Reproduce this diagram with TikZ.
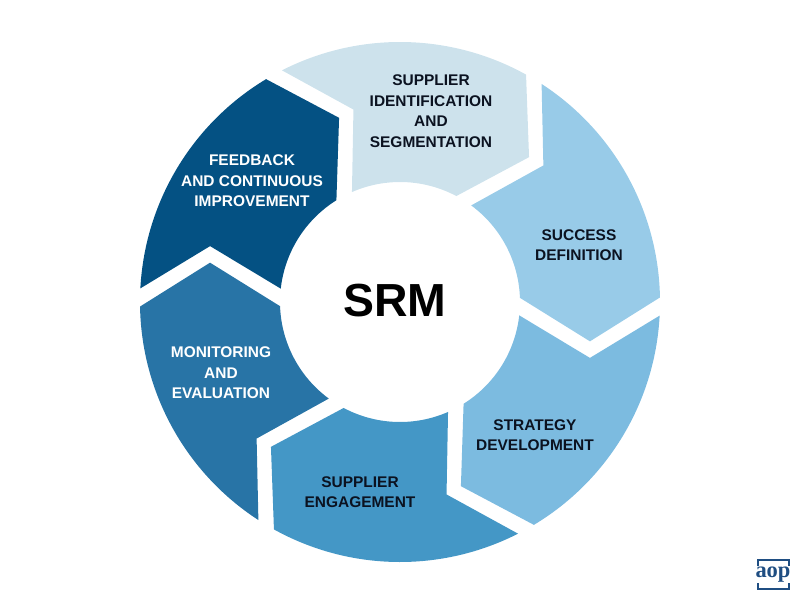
\documentclass[tikz,border=0pt]{standalone}
\usepackage{fontspec}
\setmainfont{Liberation Sans}
\newfontfamily\logofont{Liberation Serif}
\definecolor{segA}{HTML}{CDE2EC}
\definecolor{segB}{HTML}{98CBE8}
\definecolor{segC}{HTML}{7CBBE0}
\definecolor{segD}{HTML}{4497C6}
\definecolor{segE}{HTML}{2874A6}
\definecolor{segF}{HTML}{045183}
\definecolor{inkdark}{HTML}{0B1220}
\definecolor{logoblue}{HTML}{1F4E82}
\begin{document}
\begin{tikzpicture}[thick,scale=1.0,
        lbl/.style={align=center, inner sep=0pt,
                        font=\fontsize{11}{14.6}\selectfont\bfseries},
        dk/.style={lbl, text=inkdark},
        lt/.style={lbl, text=white}]
            \useasboundingbox (-10,-7.45) rectangle (10,7.55);

            % six copies of one arrow, clockwise from the top
            \foreach \x/\c in {0/segA,-60/segB,-120/segC,-180/segD,-240/segE,-300/segF} {
                \fill[\c] (\x+117:6.5)
                    arc[start angle=\x+117, end angle=\x+61, radius=6.5]
                    -- (\x+48.3:4.85) -- (\x+62:3)
                    arc[start angle=\x+62, end angle=\x+113.6, radius=3]
                    -- (\x+103.6:4.95) -- cycle;
            }

            \node[dk] (identify) at (0.775,4.775) {SUPPLIER\\IDENTIFICATION\\AND\\SEGMENTATION};
            \node[dk] (success) at (4.475,1.425) {SUCCESS\\DEFINITION};
            \node[dk] (strategy) at (3.375,-3.325) {STRATEGY\\DEVELOPMENT};
            \node[dk] (engage) at (-1,-4.75) {SUPPLIER\\ENGAGEMENT};
            \node[lt] (monitor) at (-4.475,-1.775) {MONITORING\\AND\\EVALUATION};
            \node[lt] (feedback) at (-3.7,3.025) {FEEDBACK\\AND CONTINUOUS\\IMPROVEMENT};
            \node[font=\fontsize{33}{36}\selectfont\bfseries, text=black, inner sep=0pt] (srm) at (-0.125,0.025) {SRM};

            % logo
            \draw[logoblue, line width=1pt]
                (8.95,-6.6) -- (8.95,-6.45) -- (9.725,-6.45) -- (9.725,-6.6)
                (8.95,-7.025) -- (8.95,-7.175) -- (9.725,-7.175) -- (9.725,-7.025);
            \node[font=\logofont\fontsize{16}{16}\selectfont\bfseries, text=logoblue, inner sep=0pt] (aop) at (9.325,-6.825) {aop};
        \end{tikzpicture}
\end{document}
